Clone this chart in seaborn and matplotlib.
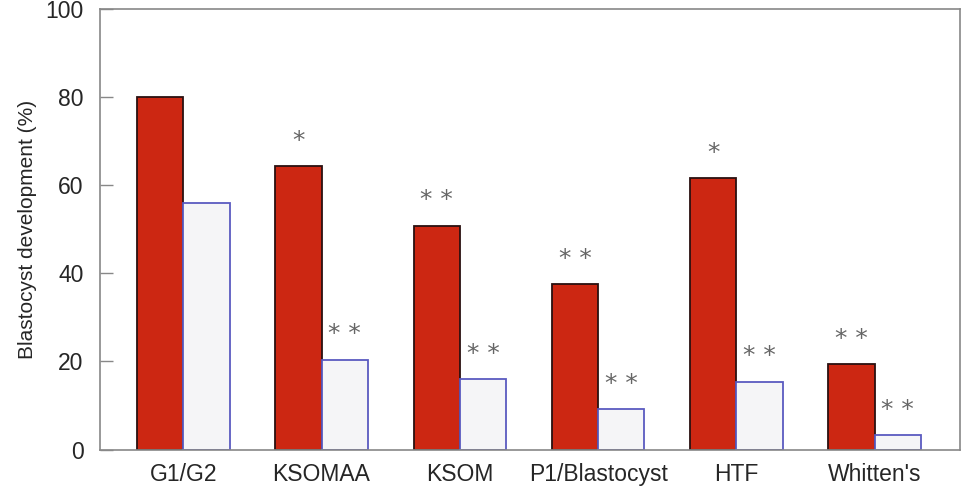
import matplotlib
matplotlib.use("Agg")
import matplotlib.pyplot as plt
import seaborn as sns
import pandas as pd

media = ["G1/G2", "KSOMAA", "KSOM", "P1/Blastocyst", "HTF", "Whitten's"]
group_a = [80.0, 64.4, 50.8, 37.6, 61.6, 19.3]
group_b = [56.0, 20.4, 15.9, 9.1, 15.4, 3.2]
marks_a = ["", "*", "**", "**", "*", "**"]
marks_b = ["", "**", "**", "**", "**", "**"]

df = pd.DataFrame({
    "medium": media * 2,
    "value": group_a + group_b,
    "group": ["A"] * len(media) + ["B"] * len(media),
})

sns.set_style("white")
plt.rcParams["font.family"] = ["Liberation Sans", "DejaVu Sans"]

fig, ax = plt.subplots(figsize=(9.74, 4.94), dpi=100)
sns.barplot(data=df, x="medium", y="value", hue="group", order=media,
            palette={"A": "#CC2712", "B": "#F5F5F7"}, width=0.67,
            legend=False, ax=ax, saturation=1)

for bar_container, edge in zip(ax.containers, ["#2a1010", "#5a5ac0"]):
    for p in bar_container:
        p.set_edgecolor(edge)
        p.set_linewidth(1.3)

for container, marks in zip(ax.containers, [marks_a, marks_b]):
    for p, m in zip(container, marks):
        if m:
            ax.text(p.get_x() + p.get_width() / 2, p.get_height() + 3.0,
                    " ".join(m), ha="center", va="bottom", fontsize=18,
                    color="#666666", family="DejaVu Sans")

ax.set_ylim(0, 100)
ax.set_xlim(-0.6, 5.62)
ax.set_yticks([0, 20, 40, 60, 80, 100])
ax.tick_params(axis="y", left=True, direction="in", length=9, width=1,
               color="#888888", labelsize=16.5, pad=12)
ax.tick_params(axis="x", length=0, labelsize=16.5, pad=10)
ax.set_xlabel("")
ax.set_ylabel("Blastocyst development (%)", fontsize=15, labelpad=6)
for s in ax.spines.values():
    s.set_color("#888888")
    s.set_linewidth(1.2)

fig.subplots_adjust(left=0.103, right=0.986, top=0.982, bottom=0.09)
fig.savefig("out.png", dpi=100)
